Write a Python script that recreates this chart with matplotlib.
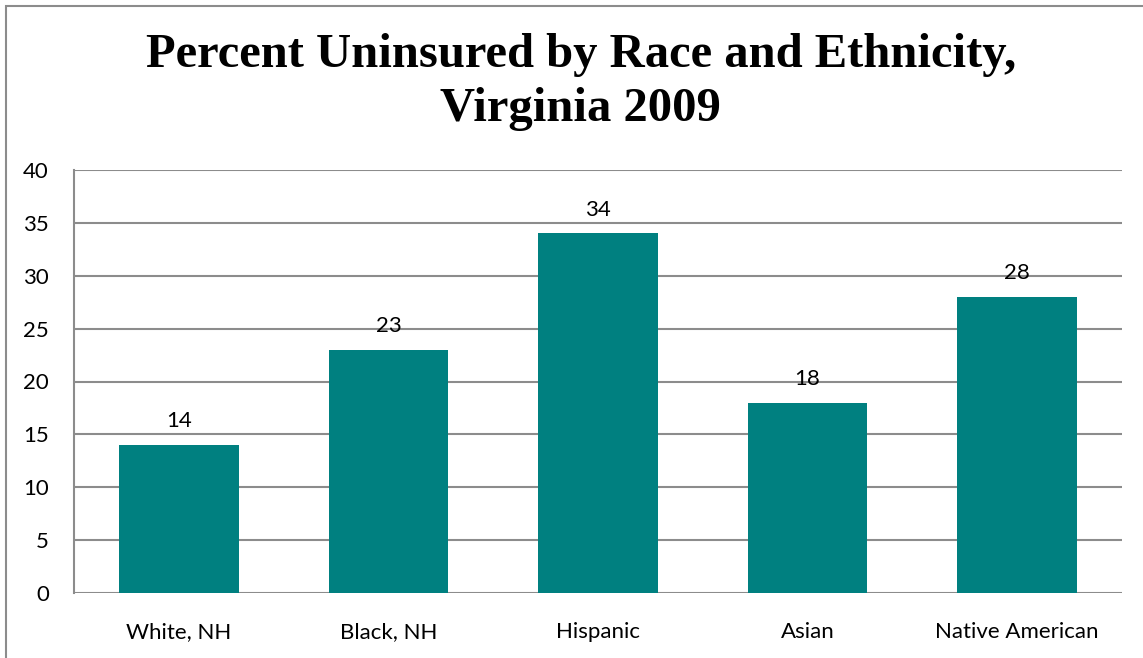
import matplotlib.pyplot as plt
from matplotlib.patches import Rectangle

# data
categories = ["White, NH", "Black, NH", "Hispanic", "Asian", "Native American"]
uninsured = [14, 23, 34, 18, 28]
y_ticks = [0, 5, 10, 15, 20, 25, 30, 35, 40]

TEAL = "#008080"
GRID = "#8c8c8c"

fig = plt.figure(figsize=(11.43, 6.58), dpi=100)
W, H = 1143, 658
# plot area in pixels: left 74, right 1122, top 170, bottom 593
ax = fig.add_axes([74 / W, 1 - 593 / H, (1122 - 74) / W, (593 - 170) / H])

x = list(range(len(categories)))
ax.bar(x, uninsured, width=0.57, color=TEAL, zorder=3)

for xi, v in zip(x, uninsured):
    ax.annotate(str(v), (xi, v), xytext=(0, 10), textcoords="offset points",
                ha="center", va="bottom", fontsize=16, family="Lato")

ax.set_xlim(-0.5, len(categories) - 0.5)
ax.set_ylim(0, 40)
ax.set_yticks(y_ticks)
ax.set_xticks(x)
ax.set_xticklabels(categories)
ax.yaxis.grid(True, color=GRID, linewidth=1.5, zorder=0)
ax.tick_params(axis="both", length=0, labelsize=16)
ax.tick_params(axis="y", pad=18)
ax.tick_params(axis="x", pad=21)
for lab in ax.get_xticklabels() + ax.get_yticklabels():
    lab.set_family("Lato")
for s in ["top", "right", "bottom"]:
    ax.spines[s].set_visible(False)
ax.spines["left"].set_color(GRID)
ax.spines["left"].set_linewidth(1.5)

fig.text(0.508, 1 - 33 / H, "Percent Uninsured by Race and Ethnicity,\nVirginia 2009",
         ha="center", va="top", fontsize=35, fontweight="bold",
         family="Liberation Serif", linespacing=1.3)

# chart outer border (left and top edges visible)
fig.patches.append(Rectangle((6 / W, -0.1), 1.2, 1 - 6 / H + 0.1, transform=fig.transFigure,
                             fill=False, edgecolor=GRID, linewidth=1.5))

fig.savefig("out.png", dpi=100)
